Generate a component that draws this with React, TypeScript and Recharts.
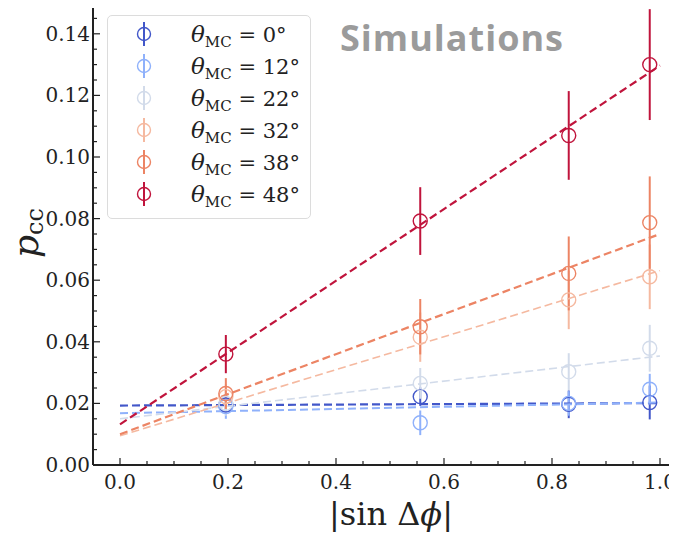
import { ComposedChart, Scatter, ErrorBar, XAxis, YAxis, Legend } from 'recharts';

// |sin dphi| positions of the simulated points
const xs = [0.196, 0.556, 0.831, 0.981];

const angles = [0, 12, 22, 32, 38, 48];
const colors = ['#4257c9', '#8fb1fb', '#d2dbea', '#f5b9a0', '#ec8464', '#c0143c'];

const p0 = [0.0195, 0.0222, 0.0197, 0.0203];
const e0 = [0.003, 0.003, 0.0045, 0.0055];
const p12 = [0.019, 0.0137, 0.02, 0.0246];
const e12 = [0.004, 0.004, 0.004, 0.005];
const p22 = [0.02, 0.0265, 0.0303, 0.0379];
const e22 = [0.004, 0.005, 0.006, 0.0076];
const p32 = [0.0222, 0.0415, 0.0536, 0.0611];
const e32 = [0.004, 0.008, 0.0095, 0.0105];
const p38 = [0.0232, 0.0449, 0.0622, 0.0787];
const e38 = [0.005, 0.009, 0.012, 0.015];
const p48 = [0.036, 0.0792, 0.107, 0.13];
const e48 = [0.0062, 0.011, 0.0144, 0.018];

// linear fits, value at |sin dphi| = 0 and 1
const fitX = [0, 1];
const fitStart = [0.0193, 0.0168, 0.015, 0.0095, 0.01, 0.0132];
const fitEnd = [0.0201, 0.0203, 0.0354, 0.0631, 0.075, 0.1297];

const xTicks = Array.from({ length: 21 }, (_, i) => +(i * 0.05).toFixed(2));
const yTicks = Array.from({ length: 31 }, (_, i) => +(i * 0.005).toFixed(3));

const values = [p0, p12, p22, p32, p38, p48];
const errors = [e0, e12, e22, e32, e38, e48];
const lineWidths = [2.2, 2, 1.6, 1.6, 2.2, 2.2];

const series = angles.map((a, i) => ({
  angle: a,
  color: colors[i],
  points: xs.map((x, j) => ({ x, y: values[i][j], e: errors[i][j] })),
  fit: fitX.map((x, j) => ({ x, y: j === 0 ? fitStart[i] : fitEnd[i] })),
}));

const SERIF = '"DejaVu Serif", serif';

const isMajor = (v: number, step: number) => Math.abs(v / step - Math.round(v / step)) < 1e-6;

const BottomTick = ({ x, y, payload }: any) => {
  const major = isMajor(payload.value, 0.2);
  return (
    <g>
      <line x1={x} x2={x} y1={y} y2={y - (major ? 7 : 4)} stroke="#222" strokeWidth={1.2} />
      {major && (
        <text x={x} y={y + 24} textAnchor="middle" fontFamily={SERIF} fontSize={20} fill="#222">
          {payload.value.toFixed(1)}
        </text>
      )}
    </g>
  );
};

const TopTick = ({ x, y, payload }: any) => {
  const major = isMajor(payload.value, 0.2);
  return <line x1={x} x2={x} y1={y} y2={y + (major ? 7 : 4)} stroke="#222" strokeWidth={1.2} />;
};

const LeftTick = ({ x, y, payload }: any) => {
  const major = isMajor(payload.value, 0.02);
  return (
    <g>
      <line x1={x} x2={x + (major ? 7 : 4)} y1={y} y2={y} stroke="#222" strokeWidth={1.2} />
      {major && (
        <text x={x - 3} y={y + 7} textAnchor="end" fontFamily={SERIF} fontSize={20} fill="#222">
          {payload.value.toFixed(2)}
        </text>
      )}
    </g>
  );
};

const Dot = (color: string) => (props: any) => (
  <circle cx={props.cx} cy={props.cy} r={7} fill="none" stroke={color} strokeWidth={1.4} />
);

const NoDot = () => <g />;

const LegendBox = () => (
  <div
    style={{
      boxSizing: 'border-box',
      width: 204,
      height: 204,
      paddingTop: 2,
      border: '1px solid #dcdcdc',
      borderRadius: 5,
      background: 'rgba(255,255,255,0.85)',
    }}
  >
    {series.map((s) => (
      <div key={s.angle} style={{ display: 'flex', alignItems: 'center', height: 32 }}>
        <svg width={83} height={32} style={{ flex: 'none' }}>
          <line x1={36} x2={36} y1={4} y2={28} stroke={s.color} strokeWidth={2} />
          <circle cx={36} cy={16} r={6.5} fill="none" stroke={s.color} strokeWidth={1.4} />
        </svg>
        <span style={{ whiteSpace: 'nowrap', fontFamily: SERIF, fontSize: 21, color: '#222' }}>
          <i style={{ fontFamily: SERIF, fontSize: 23 }}>θ</i>
          <span style={{ fontFamily: SERIF, fontSize: 15, position: 'relative', top: 5 }}>MC</span> = {s.angle}°
        </span>
      </div>
    ))}
  </div>
);

const XLabel = () => (
  <text x={391} y={525} textAnchor="middle" fontFamily={SERIF} fontSize={32} fill="#222">
    <tspan>|sin Δ</tspan>
    <tspan fontStyle="italic">ϕ</tspan>
    <tspan>|</tspan>
  </text>
);

const YLabel = () => (
  <text transform="translate(38,233) rotate(-90)" textAnchor="middle" fontFamily={SERIF} fontSize={36} fill="#222">
    <tspan fontStyle="italic">p</tspan>
    <tspan fontSize={24} dy={5}>cc</tspan>
  </text>
);

export default function App() {
  return (
    <div style={{ position: 'relative', width: 677, height: 540, margin: -8, overflow: 'hidden', background: '#fff' }}>
      <ComposedChart width={700} height={540} margin={{ top: 3, right: 13, bottom: 0, left: 0 }}>
        <XAxis
          xAxisId="b"
          dataKey="x"
          type="number"
          domain={[-0.05, 1.05]}
          allowDataOverflow
          ticks={xTicks}
          interval={0}
          tickSize={0}
          tickMargin={0}
          tickLine={false}
          tick={BottomTick}
          height={75}
          axisLine={{ stroke: '#222', strokeWidth: 2 }}
          label={{ content: XLabel }}
        />
        <XAxis
          xAxisId="t"
          orientation="top"
          dataKey="x"
          type="number"
          domain={[-0.05, 1.05]}
          allowDataOverflow
          ticks={xTicks}
          interval={0}
          tickSize={0}
          tickMargin={0}
          tickLine={false}
          tick={TopTick}
          height={0}
          axisLine={{ stroke: '#222', strokeWidth: 2 }}
        />
        <YAxis
          dataKey="y"
          type="number"
          domain={[0, 0.15]}
          allowDataOverflow
          ticks={yTicks}
          interval={0}
          tickSize={0}
          tickMargin={0}
          tickLine={false}
          tick={LeftTick}
          width={93}
          axisLine={{ stroke: '#222', strokeWidth: 2 }}
          label={{ content: YLabel }}
        />
        {series.map((s, i) => (
          <Scatter
            key={`fit-${s.angle}`}
            xAxisId="b"
            data={s.fit}
            line={{ stroke: s.color, strokeWidth: lineWidths[i], strokeDasharray: '8 4' }}
            shape={NoDot}
            legendType="none"
            isAnimationActive={false}
          />
        ))}
        {series.map((s) => (
          <Scatter
            key={`pts-${s.angle}`}
            xAxisId="b"
            data={s.points}
            shape={Dot(s.color)}
            isAnimationActive={false}
          >
            <ErrorBar dataKey="e" direction="y" width={0} stroke={s.color} strokeWidth={2} isAnimationActive={false} />
          </Scatter>
        ))}
        <Legend
          layout="horizontal"
          verticalAlign="middle"
          align="center"
          content={LegendBox}
          wrapperStyle={{ top: 15, left: 107, width: 204, height: 204 }}
        />
      </ComposedChart>
      <div
        style={{
          position: 'absolute',
          left: 340,
          top: 15,
          fontFamily: '"Open Sans", sans-serif',
          fontWeight: 700,
          fontSize: 36,
          letterSpacing: 1,
          color: '#9b9b9b',
          lineHeight: '46px',
        }}
      >
        Simulations
      </div>
    </div>
  );
}
